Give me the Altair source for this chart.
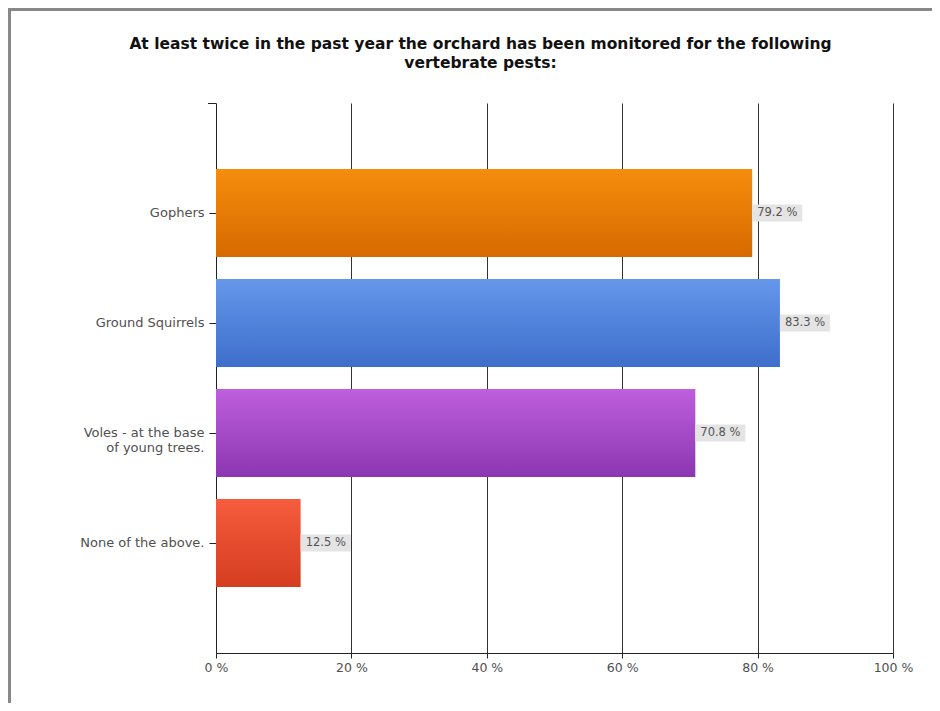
import altair as alt
import pandas as pd

categories = ["Gophers", "Ground Squirrels", "Voles - at the base of young trees.", "None of the above."]
values = [79.2, 83.3, 70.8, 12.5]
labels = ["79.2 %", "83.3 %", "70.8 %", "12.5 %"]
grad_top = ["#f68d0c", "#6597ea", "#be5fdd", "#f65c3d"]
grad_bottom = ["#d66a00", "#3d6ecb", "#8c36b1", "#d53d21"]
x_ticks = [0, 20, 40, 60, 80, 100]

df = pd.DataFrame({"cat": categories, "value": values, "label": labels})
df["box_end"] = df["value"] + 7.4

FONT = "DejaVu Sans"
W, H = 677, 550

yenc = alt.Y("cat:N", sort=categories,
             scale=alt.Scale(paddingInner=0.2, paddingOuter=0.6),
             axis=alt.Axis(title=None, labelFontSize=13, labelColor="#505050",
                           labelFont=FONT, tickSize=7, tickColor="#222", grid=False,
                           domainColor="#222", labelPadding=5, labelLineHeight=15,
                           labelExpr="datum.label == 'Voles - at the base of young trees.' ? ['Voles - at the base', 'of young trees.'] : datum.label"))
xenc = alt.X("value:Q", scale=alt.Scale(domain=[0, 100]),
             axis=alt.Axis(title=None, values=x_ticks, labelExpr="datum.value + ' %'",
                           labelFontSize=12.5, labelColor="#505050", labelFont=FONT,
                           labelFlush=False,
                           tickSize=5, tickColor="#222", domainColor="#222",
                           grid=True, gridColor="#333", gridWidth=1, labelPadding=3))

base = alt.Chart(df)

layers = []
for i, c in enumerate(categories):
    g = alt.Gradient(gradient="linear", x1=0, x2=0, y1=0, y2=1,
                     stops=[alt.GradientStop(color=grad_top[i], offset=0),
                            alt.GradientStop(color=grad_bottom[i], offset=1)])
    layers.append(
        base.transform_filter(alt.datum.cat == c)
        .mark_bar(color=g)
        .encode(x=xenc, y=yenc)
    )

boxes = base.mark_bar(color="#e4e4e4", size=17).encode(
    x=alt.X("value:Q"), x2="box_end:Q", y=alt.Y("cat:N", sort=categories))
texts = base.mark_text(align="left", dx=5, fontSize=11.5, color="#555", font=FONT).encode(
    x="value:Q", y=alt.Y("cat:N", sort=categories), text="label:N")

frame_top = base.mark_rule(color="#888888", strokeWidth=3).encode(
    x=alt.value(-208), x2=alt.value(W + 40), y=alt.value(-93.5))
frame_left = base.mark_rule(color="#888888", strokeWidth=3).encode(
    x=alt.value(-206.5), y=alt.value(-95), y2=alt.value(H + 60))
top_tick = base.mark_rule(color="#222", strokeWidth=1).encode(
    x=alt.value(-8), x2=alt.value(0), y=alt.value(0.5))

chart = alt.layer(*layers, boxes, texts, frame_top, frame_left, top_tick).properties(
    width=W, height=H,
    title=alt.TitleParams(
        text=["At least twice in the past year the orchard has been monitored for the following",
              "vertebrate pests:"],
        font=FONT, fontSize=15.5, fontWeight="bold", color="#111",
        anchor="middle", frame="group", dx=-74, offset=-65, lineHeight=19),
    autosize=alt.AutoSizeParams(type="none"),
    padding={"left": 208, "top": 95, "right": 39, "bottom": 50},
).configure(background="white").configure_view(stroke=None)

chart.save("out.html", embed_options={"renderer": "svg", "actions": False})
